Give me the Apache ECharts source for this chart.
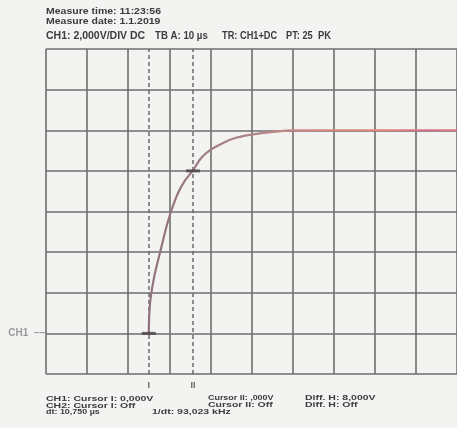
<!DOCTYPE html>
<html>
<head>
<meta charset="utf-8">
<script src="https://cdn.jsdelivr.net/npm/echarts@6/dist/echarts.min.js"></script>
<style>
html,body{margin:0;padding:0;background:#f3f3f1;}
#c{width:457px;height:428px;}
</style>
</head>
<body>
<div id="c"></div>
<script>
// time in microseconds (10 us/div), voltage in volts (2 V/div)
var timeUs = [25, 25.1, 25.4, 26.1, 26.9, 28.1, 29.3, 30.5, 32.1, 33.8, 35.75, 37.6, 40.0, 43.2, 46.4, 50.4, 56.0, 59.5, 70, 80, 90, 100];
var volts  = [0, 0.8, 1.65, 2.55, 3.3, 4.27, 5.25, 6.05, 6.9, 7.52, 8.02, 8.6, 9.03, 9.39, 9.64, 9.8, 9.93, 9.99, 10, 10, 10, 10];
var cursorTimes = [25, 35.75];
var cursorVolts = [0, 8];
var cursorNames = ['I', 'II'];
var xTicks = [0, 100, 10];   // min, max, interval (us)
var yTicks = [-2, 14, 2];    // min, max, interval (V)

var headerLines = ['Measure time: 11:23:56', 'Measure date: 1.1.2019'];
var settingsParts = ['CH1: 2,000V/DIV DC', 'TB A: 10 \u00b5s', 'TR: CH1+DC', 'PT: 25', 'PK'];
var footerParts = ['CH1: Cursor I: 0,000V', 'Cursor II: ,000V', 'Diff. H: 8,000V',
                   'CH2: Cursor I: Off', 'Cursor II: Off', 'Diff. H: Off',
                   'dt: 10,750 \u00b5s', '1/dt: 93,023 kHz'];

var chart = echarts.init(document.getElementById('c'));
var FONT = '"Liberation Sans", Arial, sans-serif';
var TXT = '#3c3c3c';
function txt(x, y, s, size, sy, sx) {
  return {type: 'text', x: x, y: y, z: 10, scaleY: sy || 1, scaleX: sx || 1,
    style: {text: s, fill: TXT, font: 'bold ' + (size || 10) + 'px ' + FONT, textVerticalAlign: 'middle'}};
}
var graphics = [
  txt(46, 12, headerLines[0], 10.5, 0.85),
  txt(46, 21.5, headerLines[1], 10.5, 0.85),
  txt(46, 36, settingsParts[0], 10.5),
  txt(155, 36, settingsParts[1], 10.5, 1, 0.92),
  txt(222, 36, settingsParts[2], 10.5, 1, 0.88),
  txt(286, 36, settingsParts[3], 10.5, 1, 0.88),
  txt(318, 36, settingsParts[4], 10.5, 1, 0.9),
  txt(46, 399, footerParts[0], 10.5, 0.72),
  txt(208, 398, footerParts[1], 10.5, 0.72, 0.85),
  txt(305, 398, footerParts[2], 10.5, 0.72),
  txt(46, 405.5, footerParts[3], 10.5, 0.72),
  txt(208, 404.5, footerParts[4], 10.5, 0.72),
  txt(305, 404.5, footerParts[5], 10.5, 0.72),
  txt(46, 412, footerParts[6], 10.5, 0.72, 0.85),
  txt(152, 412, footerParts[7], 10.5, 0.72)
];

var gridLine = {show: true, lineStyle: {color: '#6e6e6e', width: 1.6}};
chart.setOption({
  backgroundColor: '#f3f3f1',
  animation: false,
  graphic: graphics,
  grid: {left: 46, top: 49, width: 418, height: 325, containLabel: false},
  xAxis: {
    type: 'value', min: xTicks[0], max: xTicks[1], interval: xTicks[2],
    axisLine: {show: false}, axisTick: {show: false}, axisLabel: {show: false},
    splitLine: gridLine
  },
  yAxis: {
    type: 'value', min: yTicks[0], max: yTicks[1], interval: yTicks[2],
    axisLine: {show: false}, axisTick: {show: false},
    axisLabel: {
      margin: 1, color: '#9a9a9a', fontFamily: FONT, fontSize: 10, fontWeight: 'bold',
      formatter: function (v) { return v === 0 ? 'CH1  \u2013\u2013' : ''; }
    },
    splitLine: gridLine
  },
  series: [
    {
      type: 'line', data: timeUs.map(function (t, i) { return [t, volts[i]]; }),
      showSymbol: false, smooth: 0.2, z: 5,
      lineStyle: {
        width: 2.2,
        color: new echarts.graphic.LinearGradient(0, 0, 1, 0, [
          {offset: 0, color: '#8f737b'},
          {offset: 0.3, color: '#a9818b'},
          {offset: 0.5, color: '#cf8a84'},
          {offset: 0.75, color: '#e08878'},
          {offset: 0.9, color: '#d9708a'},
          {offset: 1, color: '#e07a80'}
        ])
      },
      markLine: {
        silent: true, symbol: 'none',
        label: {show: false},
        lineStyle: {color: '#6a6a6a', type: [4, 3], width: 1.5},
        data: cursorTimes.map(function (t) { return {xAxis: t}; })
      }
    },
    {
      type: 'scatter', z: 6,
      data: cursorTimes.map(function (t, i) { return [t, cursorVolts[i]]; }),
      symbol: 'rect', symbolSize: [14, 3],
      itemStyle: {color: '#4a4044'}
    },
    {
      type: 'scatter', z: 6,
      data: cursorTimes.map(function (t, i) { return [t, yTicks[0]]; }),
      symbolSize: 0,
      label: {
        show: true, position: 'bottom', distance: 7,
        formatter: function (p) { return cursorNames[p.dataIndex]; },
        color: '#444', fontFamily: FONT, fontWeight: 'bold', fontSize: 9
      }
    }
  ]
});
</script>
</body>
</html>
